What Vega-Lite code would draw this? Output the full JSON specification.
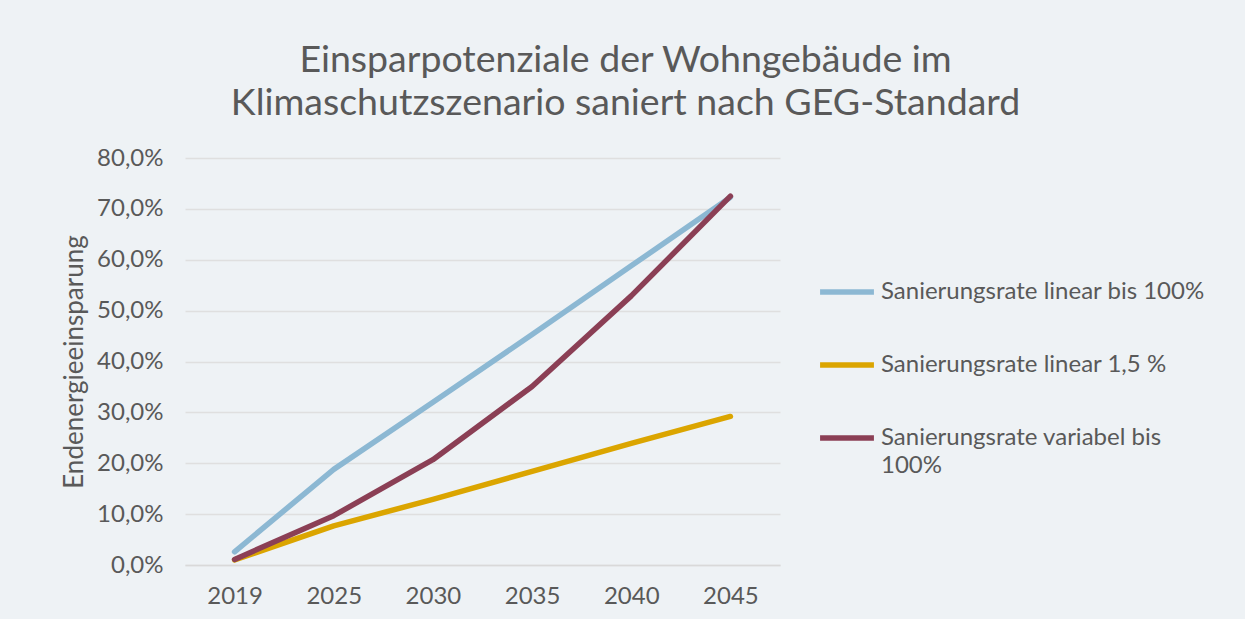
{
  "$schema": "https://vega.github.io/schema/vega-lite/v6.json",
  "autosize": {"type": "none"},
  "padding": {"left": 185, "top": 158, "right": 465, "bottom": 54},
  "width": 595,
  "height": 407,
  "background": "#eef2f5",
  "title": {
    "text": ["Einsparpotenziale der Wohngebäude im", "Klimaschutzszenario saniert nach GEG-Standard"],
    "font": "Lato",
    "fontSize": 37.5,
    "fontWeight": "normal",
    "color": "#595959",
    "anchor": "middle",
    "dx": 143,
    "offset": 24,
    "lineHeight": 43
  },
  "data": {
    "values": [
      {"Jahr": "2019", "Szenario": "Sanierungsrate linear bis 100%", "Wert": 0.026},
      {"Jahr": "2025", "Szenario": "Sanierungsrate linear bis 100%", "Wert": 0.188},
      {"Jahr": "2030", "Szenario": "Sanierungsrate linear bis 100%", "Wert": 0.320},
      {"Jahr": "2035", "Szenario": "Sanierungsrate linear bis 100%", "Wert": 0.453},
      {"Jahr": "2040", "Szenario": "Sanierungsrate linear bis 100%", "Wert": 0.588},
      {"Jahr": "2045", "Szenario": "Sanierungsrate linear bis 100%", "Wert": 0.723},
      {"Jahr": "2019", "Szenario": "Sanierungsrate linear 1,5 %", "Wert": 0.010},
      {"Jahr": "2025", "Szenario": "Sanierungsrate linear 1,5 %", "Wert": 0.077},
      {"Jahr": "2030", "Szenario": "Sanierungsrate linear 1,5 %", "Wert": 0.129},
      {"Jahr": "2035", "Szenario": "Sanierungsrate linear 1,5 %", "Wert": 0.184},
      {"Jahr": "2040", "Szenario": "Sanierungsrate linear 1,5 %", "Wert": 0.239},
      {"Jahr": "2045", "Szenario": "Sanierungsrate linear 1,5 %", "Wert": 0.292},
      {"Jahr": "2019", "Szenario": "Sanierungsrate variabel bis 100%", "Wert": 0.011},
      {"Jahr": "2025", "Szenario": "Sanierungsrate variabel bis 100%", "Wert": 0.097},
      {"Jahr": "2030", "Szenario": "Sanierungsrate variabel bis 100%", "Wert": 0.207},
      {"Jahr": "2035", "Szenario": "Sanierungsrate variabel bis 100%", "Wert": 0.351},
      {"Jahr": "2040", "Szenario": "Sanierungsrate variabel bis 100%", "Wert": 0.529},
      {"Jahr": "2045", "Szenario": "Sanierungsrate variabel bis 100%", "Wert": 0.725}
    ]
  },
  "mark": {"type": "line", "strokeWidth": 5.5, "strokeCap": "round", "strokeJoin": "round"},
  "encoding": {
    "x": {
      "field": "Jahr",
      "type": "ordinal",
      "sort": null,
      "scale": {"type": "point", "padding": 0.5},
      "axis": {
        "title": null,
        "labelAngle": 0,
        "labelFont": "Lato",
        "labelFontSize": 24,
        "labelColor": "#595959",
        "labelPadding": 19,
        "ticks": false,
        "domainColor": "#d9d9d9",
        "domainWidth": 1.5,
        "grid": false
      }
    },
    "y": {
      "field": "Wert",
      "type": "quantitative",
      "scale": {"domain": [0, 0.8], "nice": false},
      "axis": {
        "title": "Endenergieeinsparung",
        "titleFont": "Lato",
        "titleFontSize": 26,
        "titleFontWeight": "normal",
        "titleColor": "#595959",
        "titlePadding": 9,
        "values": [0, 0.1, 0.2, 0.3, 0.4, 0.5, 0.6, 0.7, 0.8],
        "labelExpr": "replace(format(datum.value, '.1%'), '.', ',')",
        "labelFont": "Lato",
        "labelFontSize": 24,
        "labelColor": "#595959",
        "labelPadding": 22,
        "ticks": false,
        "domain": false,
        "grid": true,
        "gridColor": "#dfdfdf",
        "gridWidth": 1.5
      }
    },
    "color": {
      "field": "Szenario",
      "type": "nominal",
      "scale": {
        "domain": ["Sanierungsrate linear bis 100%", "Sanierungsrate linear 1,5 %", "Sanierungsrate variabel bis 100%"],
        "range": ["#8cb8d3", "#dba500", "#8b3f55"]
      },
      "legend": {
        "title": null,
        "orient": "none",
        "legendX": 632,
        "legendY": 104,
        "symbolType": "stroke",
        "symbolSize": 2900,
        "symbolStrokeWidth": 5.5,
        "labelFont": "Lato",
        "labelFontSize": 24,
        "labelColor": "#595959",
        "labelOffset": 4,
        "labelLimit": 450,
        "rowPadding": 31,
        "labelExpr": "datum.label == 'Sanierungsrate variabel bis 100%' ? ['Sanierungsrate variabel bis', '100%'] : datum.label",
        "encode": {"labels": {"update": {"lineHeight": {"value": 28}}}}
      }
    }
  },
  "config": {
    "view": {"stroke": null}
  }
}
